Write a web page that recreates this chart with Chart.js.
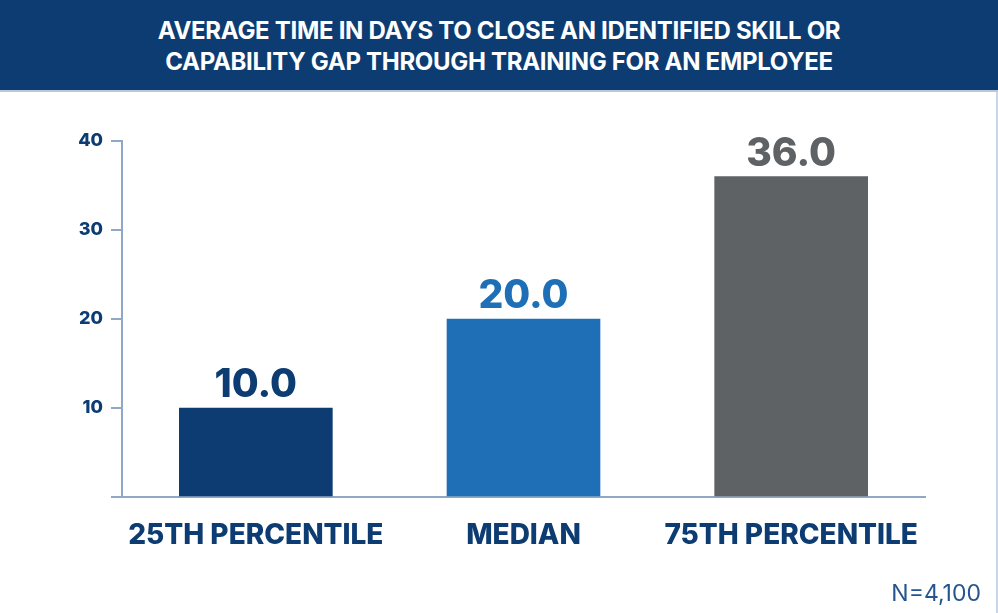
<!DOCTYPE html>
<html>
<head>
<meta charset="utf-8">
<script src="https://cdn.jsdelivr.net/npm/chart.js@4/dist/chart.umd.min.js"></script>
<style>
  body { margin: 0; background: #fff; }
  #wrap { position: relative; width: 998px; height: 613px; overflow: hidden; }
  #banner {
    position: absolute; left: 0; top: 0; width: 998px; height: 92px;
    background: #0c3c72; border-bottom: 2px solid #b9c9dc;
    color: #fff; font-family: Inter, sans-serif; font-weight: 700;
    font-size: 24px; line-height: 31px; text-align: center;
    padding-top: 15px; box-sizing: border-box; letter-spacing: -0.3px;
  }
  #note {
    position: absolute; right: 17px; top: 579px;
    font-family: Inter, sans-serif; font-size: 23px; font-weight: 400; color: #24558f;
  }
  #edge { position: absolute; right: 0; top: 92px; width: 2px; height: 521px; background: #c9d6e6; }
</style>
</head>
<body>
<div id="wrap">
  <canvas id="chart" width="998" height="613"></canvas>
  <div id="banner">AVERAGE TIME IN DAYS TO CLOSE AN IDENTIFIED SKILL OR<br>CAPABILITY GAP THROUGH TRAINING FOR AN EMPLOYEE</div>
  <div id="note">N=4,100</div>
  <div id="edge"></div>
</div>
<script>
const categories = ['25TH PERCENTILE', 'MEDIAN', '75TH PERCENTILE'];
const values = [10.0, 20.0, 36.0];
const barColors = ['#0c3c72', '#1e6fb6', '#5e6265'];
const yTicks = [0, 10, 20, 30, 40];

const axisColor = '#8ea8c6';
const navy = '#0c3c72';

// value labels on top of bars
const valueLabels = {
  id: 'valueLabels',
  afterDatasetsDraw(chart) {
    const ctx = chart.ctx;
    const meta = chart.getDatasetMeta(0);
    ctx.save();
    ctx.font = '800 39px Inter, sans-serif';
    ctx.textAlign = 'center';
    ctx.textBaseline = 'alphabetic';
    meta.data.forEach((bar, i) => {
      ctx.fillStyle = barColors[i];
      ctx.fillText(values[i].toFixed(1), bar.x, bar.y - 11);
    });
    ctx.restore();
  }
};

new Chart(document.getElementById('chart').getContext('2d'), {
  type: 'bar',
  data: {
    labels: categories,
    datasets: [{
      data: values,
      backgroundColor: barColors,
      barThickness: 153
    }]
  },
  options: {
    responsive: false,
    animation: false,
    layout: { padding: { top: 141, right: 73, left: 0, bottom: 0 } },
    plugins: { legend: { display: false }, tooltip: { enabled: false } },
    scales: {
      x: {
        grid: { display: false, drawTicks: false },
        border: { color: axisColor, width: 2 },
        ticks: {
          color: navy,
          padding: 22,
          font: { family: 'Inter', weight: '800', size: 28 }
        },
        afterFit: s => { s.height = 116; }
      },
      y: {
        min: 0,
        max: 40,
        afterBuildTicks: s => { s.ticks = yTicks.map(v => ({ value: v })); },
        grid: { drawOnChartArea: false, tickLength: 11, color: axisColor, lineWidth: 2 },
        border: { color: axisColor, width: 2 },
        ticks: {
          color: navy,
          padding: 8,
          font: { family: 'Inter', weight: '800', size: 18 },
          callback: v => (v === 0 ? '' : v)
        },
        afterFit: s => { s.width = 122; }
      }
    }
  },
  plugins: [valueLabels]
});
</script>
</body>
</html>
